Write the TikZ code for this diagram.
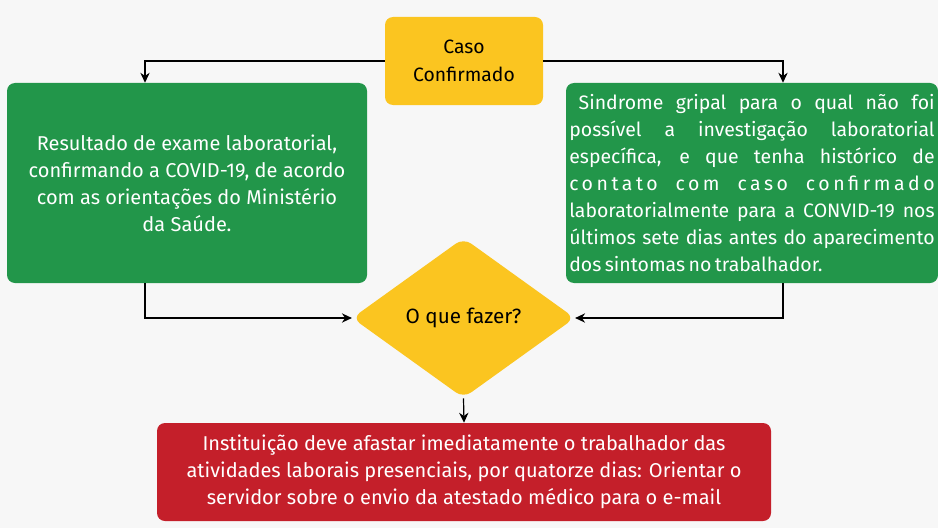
\documentclass[tikz,border=0pt]{standalone}
\usepackage{fontspec}
\setmainfont{Fira Sans}
\usetikzlibrary{shapes.geometric,arrows.meta}
\definecolor{bgc}{HTML}{F7F7F7}
\definecolor{ylw}{HTML}{FBC520}
\definecolor{grn}{HTML}{22964A}
\definecolor{rdc}{HTML}{C41F2A}
\newcommand{\jline}[2][3.2pt]{\hbox to 274pt{\spaceskip=#1 plus 1fil minus 1pt\relax #2}}
\tikzset{
  box/.style={rectangle,rounded corners=6pt,inner sep=0pt,align=center},
  greenbox/.style={box,fill=grn,text=white,font=\fontsize{15}{20.3}\selectfont},
  conn/.style={line width=0.9pt,-{Stealth[length=7.5pt,width=7pt]}},
}
\begin{document}
\begin{tikzpicture}[x=0.75pt,y=-0.75pt]
\fill[bgc] (0,0) rectangle (938,528);
\useasboundingbox (0,0) rectangle (938,528);

\node[box,fill=ylw,minimum width=118.5pt,minimum height=66pt,font=\fontsize{14.5}{20.5}\selectfont] (caso) at (464,61) {Caso\\Confirmado};

\node[greenbox,minimum width=270pt,minimum height=150pt] (left) at (187,183)
 {Resultado de exame laboratorial,\\confirmando a COVID-19, de acordo\\com as orientações do Ministério\\da Saúde.};

\node[greenbox,minimum width=279pt,minimum height=150pt,text width=274pt,align=left,font=\fontsize{14.6}{20.3}\selectfont] (right) at (752,183)
 {\jline{\hspace*{7pt}Sindrome gripal para o qual não foi}
  \jline{possível a investigação laboratorial}
  \jline{específica, e que tenha histórico de}
  \jline{\addfontfeature{LetterSpace=18}contato com caso confirmado}
  \jline[1.5pt]{laboratorialmente para a CONVID-19 nos}
  \jline[1.5pt]{últimos sete dias antes do aparecimento}
  \hbox{\spaceskip=2.6pt\relax dos sintomas no trabalhador.}};

\node[diamond,fill=ylw,rounded corners=7pt,inner sep=0pt,minimum width=167pt,minimum height=120pt,font=\fontsize{15.5}{20}\selectfont] (dec) at (463.5,318) {O que fazer?};

\node[box,fill=rdc,text=white,minimum width=460.5pt,minimum height=73.5pt,font=\fontsize{15}{20.3}\selectfont] (res) at (464,472)
 {Instituição deve afastar imediatamente o trabalhador das\\atividades laborais presenciais, por quatorze dias: Orientar o\\servidor sobre o envio da atestado médico para o e-mail};

\draw[conn] (caso.west) -| (left.north -| 145,0);
\draw[conn] (caso.east) -| (right.north -| 783,0);
\draw[conn] (left.south -| 145,0) |- (dec.west);
\draw[conn] (right.south -| 783,0) |- (dec.east);
\draw[conn] (dec.south) -- (res.north);
\end{tikzpicture}
\end{document}
